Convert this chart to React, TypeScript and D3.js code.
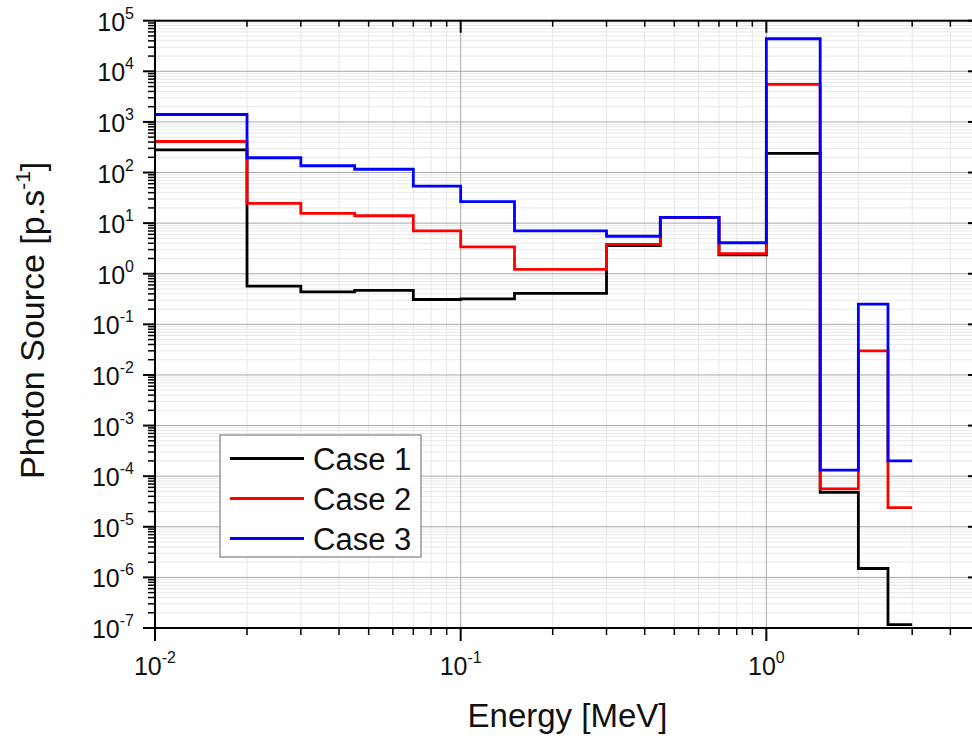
import React from 'react';
import * as d3 from 'd3';

// bin edges (MeV) and the group values for each case
const edges = [0.01, 0.02, 0.03, 0.045, 0.07, 0.1, 0.15, 0.3, 0.45, 0.7, 1.0, 1.5, 2.0, 2.5, 3.0];
const case1 = [280, 0.57, 0.44, 0.47, 0.31, 0.32, 0.41, 3.6, 13, 2.35, 240, 4.8e-5, 1.5e-6, 1.17e-7];
const case2 = [410, 24.5, 15.6, 14, 7.0, 3.4, 1.22, 3.8, 13, 2.5, 5500, 5.6e-5, 0.03, 2.4e-5];
const case3 = [1400, 196, 136, 116, 54, 26.5, 7.0, 5.5, 13, 4.1, 44000, 1.32e-4, 0.25, 2.0e-4];

const seriesNames = ['Case 1', 'Case 2', 'Case 3'];
const seriesColors = ['#000000', '#ff0000', '#0000ff'];
const xTickExps = [-2, -1, 0];
const yTickExps = [-7, -6, -5, -4, -3, -2, -1, 0, 1, 2, 3, 4, 5];

const FONT = '"Liberation Sans", Arial, sans-serif';

const App = () => {
  const left = 155, right = 980, top = 20.7, bottom = 628;

  const x = d3.scaleLog().domain([0.01, 5]).range([left, right]);
  const y = d3.scaleLog().domain([1e-7, 1e5]).range([bottom, top]);

  // minor ticks
  const xMinor: number[] = [];
  [0.01, 0.1, 1].forEach(d => {
    for (let m = 2; m <= 9; m++) {
      const v = d * m;
      if (v <= 5.0001) xMinor.push(v);
    }
  });
  const yMinor: number[] = [];
  for (let e = -7; e < 5; e++) {
    for (let m = 2; m <= 9; m++) yMinor.push(m * Math.pow(10, e));
  }

  const line = d3.line<[number, number]>()
    .x(d => x(d[0]))
    .y(d => y(d[1]))
    .curve(d3.curveStepAfter);

  const makePts = (vals: number[]): [number, number][] => {
    const pts: [number, number][] = vals.map((v, i) => [edges[i], v]);
    pts.push([edges[edges.length - 1], vals[vals.length - 1]]);
    return pts;
  };

  const series = [case1, case2, case3];

  return (
    <svg width={972} height={736} style={{ position: 'absolute', left: 0, top: 0, background: '#fff' }}
      fontFamily={FONT}>
      <rect x={0} y={0} width={972} height={736} fill="#fff" />

      {/* minor grid */}
      {yMinor.map((v, i) => (
        <line key={'ym' + i} x1={left} x2={right} y1={y(v)} y2={y(v)} stroke="#e8e8e8" strokeWidth={1} />
      ))}
      {xMinor.map((v, i) => (
        <line key={'xm' + i} x1={x(v)} x2={x(v)} y1={top} y2={bottom} stroke="#e8e8e8" strokeWidth={1} />
      ))}
      {/* major grid */}
      {yTickExps.map(e => (
        <line key={'yg' + e} x1={left} x2={right} y1={y(Math.pow(10, e))} y2={y(Math.pow(10, e))} stroke="#a8a8a8" strokeWidth={1} />
      ))}
      {xTickExps.map(e => (
        <line key={'xg' + e} x1={x(Math.pow(10, e))} x2={x(Math.pow(10, e))} y1={top} y2={bottom} stroke="#a8a8a8" strokeWidth={1} />
      ))}

      {/* series */}
      {series.map((vals, i) => (
        <path key={'s' + i} d={line(makePts(vals)) || ''} fill="none" stroke={seriesColors[i]} strokeWidth={2.8} strokeLinejoin="miter" />
      ))}

      {/* frame */}
      <rect x={left} y={top} width={right - left} height={bottom - top} fill="none" stroke="#000" strokeWidth={2} />

      {/* left ticks (outward) and right ticks (inward) */}
      {yTickExps.map(e => (
        <g key={'yt' + e}>
          <line x1={left - 12} x2={left} y1={y(Math.pow(10, e))} y2={y(Math.pow(10, e))} stroke="#000" strokeWidth={2} />
          <line x1={right - 12} x2={right} y1={y(Math.pow(10, e))} y2={y(Math.pow(10, e))} stroke="#000" strokeWidth={2} />
        </g>
      ))}
      {yMinor.map((v, i) => (
        <g key={'ytm' + i}>
          <line x1={left - 7} x2={left} y1={y(v)} y2={y(v)} stroke="#000" strokeWidth={1.5} />
          <line x1={right - 7} x2={right} y1={y(v)} y2={y(v)} stroke="#000" strokeWidth={1.5} />
        </g>
      ))}
      {/* bottom ticks (outward) and top ticks (inward) */}
      {xTickExps.map(e => (
        <g key={'xt' + e}>
          <line x1={x(Math.pow(10, e))} x2={x(Math.pow(10, e))} y1={bottom} y2={bottom + 13} stroke="#000" strokeWidth={2} />
          <line x1={x(Math.pow(10, e))} x2={x(Math.pow(10, e))} y1={top} y2={top + 12} stroke="#000" strokeWidth={2} />
        </g>
      ))}
      {xMinor.map((v, i) => (
        <g key={'xtm' + i}>
          <line x1={x(v)} x2={x(v)} y1={bottom} y2={bottom + 7} stroke="#000" strokeWidth={1.5} />
          <line x1={x(v)} x2={x(v)} y1={top} y2={top + 6} stroke="#000" strokeWidth={1.5} />
        </g>
      ))}

      {/* y tick labels */}
      {yTickExps.map(e => (
        <text key={'yl' + e} x={134} y={y(Math.pow(10, e)) + 10} textAnchor="end" fontSize={25} fill="#111">
          <tspan>10</tspan>
          <tspan fontSize={16} dy={-12}>{e}</tspan>
        </text>
      ))}
      {/* x tick labels */}
      {xTickExps.map(e => (
        <text key={'xl' + e} x={x(Math.pow(10, e))} y={675} textAnchor="middle" fontSize={25} fill="#111">
          <tspan>10</tspan>
          <tspan fontSize={16} dy={-12}>{e}</tspan>
        </text>
      ))}

      {/* axis titles */}
      <text x={(left + right) / 2} y={727} textAnchor="middle" fontSize={33} fill="#111">Energy [MeV]</text>
      <text transform={`translate(44,${(top + bottom) / 2 - 4}) rotate(-90)`} textAnchor="middle" fontSize={34} fill="#111">
        <tspan>Photon Source [p.s</tspan>
        <tspan fontSize={21} dy={-14}>-1</tspan>
        <tspan dy={14}>]</tspan>
      </text>

      {/* legend */}
      <rect x={220} y={435} width={201} height={122} fill="#fff" stroke="#7f7f7f" strokeWidth={1.2} />
      {seriesNames.map((name, i) => (
        <g key={'lg' + i}>
          <line x1={230} x2={304} y1={458.5 + i * 40} y2={458.5 + i * 40} stroke={seriesColors[i]} strokeWidth={2.8} />
          <text x={313} y={469.5 + i * 40} fontSize={31} fill="#111">{name}</text>
        </g>
      ))}
    </svg>
  );
};

export default App;
